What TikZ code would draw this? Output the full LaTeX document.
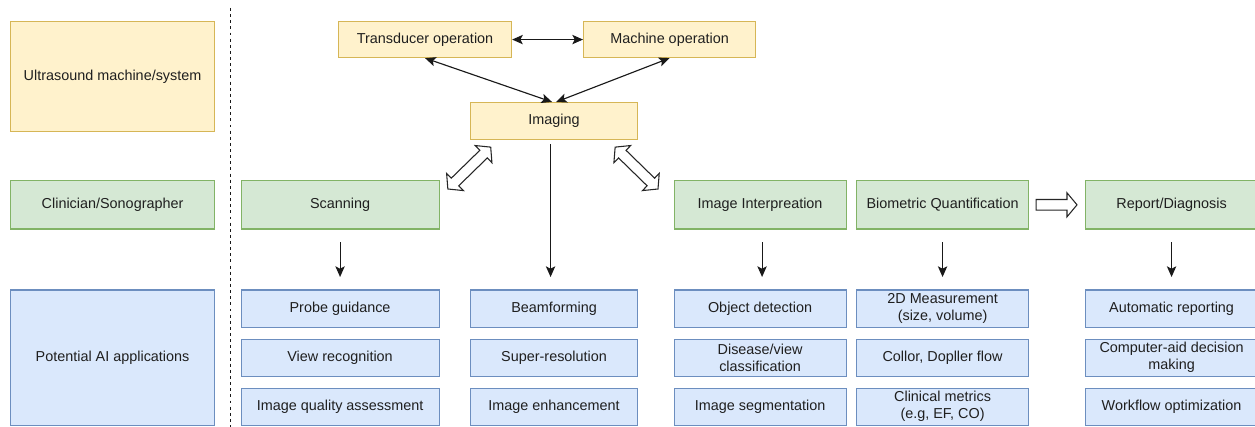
\documentclass[tikz,border=0pt]{standalone}
\usepackage{fontspec}
\setmainfont{Liberation Sans}
\usetikzlibrary{arrows.meta,calc}

\definecolor{yfill}{HTML}{FFF2CC}
\definecolor{ydraw}{HTML}{D6B656}
\definecolor{gfill}{HTML}{D5E8D4}
\definecolor{gdraw}{HTML}{82B366}
\definecolor{bfill}{HTML}{DAE8FC}
\definecolor{bdraw}{HTML}{6C8EBF}

% hollow double-headed block arrow from #1 to #2
\newcommand\dflex[2]{%
  \path[flexline] let \p1=#1, \p2=#2,
      \n1={atan2(\y2-\y1,\x2-\x1)}, \n2={veclen(\x2-\x1,\y2-\y1)} in
    [shift={(\p1)}, rotate=\n1]
    (0pt,0pt) -- (7.5pt,9pt) -- (7.5pt,4pt) -- ({\n2*1pt-7.5pt},4pt)
    -- ({\n2*1pt-7.5pt},9pt) -- ({\n2*1pt},0pt) -- ({\n2*1pt-7.5pt},-9pt)
    -- ({\n2*1pt-7.5pt},-4pt) -- (7.5pt,-4pt) -- (7.5pt,-9pt) -- cycle;}
% hollow single-headed block arrow from #1 to #2
\newcommand\sflex[2]{%
  \path[flexline] let \p1=#1, \p2=#2,
      \n1={atan2(\y2-\y1,\x2-\x1)}, \n2={veclen(\x2-\x1,\y2-\y1)} in
    [shift={(\p1)}, rotate=\n1]
    (0pt,4pt) -- ({\n2*1pt-7.5pt},4pt) -- ({\n2*1pt-7.5pt},9pt)
    -- ({\n2*1pt},0pt) -- ({\n2*1pt-7.5pt},-9pt) -- ({\n2*1pt-7.5pt},-4pt)
    -- (0pt,-4pt) -- cycle;}

\begin{document}
\begin{tikzpicture}[x=0.75pt,y=-0.75pt,
  font=\fontsize{10.8}{12.5}\selectfont,
  box/.style={draw, line width=0.85pt, inner sep=2pt, align=center,
    anchor=north west, text=black!88},
  sz/.style 2 args={minimum width=#1*0.75pt, minimum height=#2*0.75pt},
  ybox/.style={box, fill=yfill, draw=ydraw},
  gbox/.style={box, fill=gfill, draw=gdraw},
  bbox/.style={box, fill=bfill, draw=bdraw},
  tip/.tip={Stealth[length=8pt,width=7pt,inset=1.8pt]},
  conn/.style={line width=0.85pt, black!90, -tip},
  both/.style={line width=0.85pt, black!90, tip-tip},
  flexline/.style={draw=black!85, line width=0.8pt, fill=white, line join=miter}]

\fill[white] (0,0) rectangle (1255,427);
\useasboundingbox (0,0) rectangle (1255,427);

% left-hand legend column
\node[ybox, sz={204}{110}]   (us)   at (10,21)    {Ultrasound machine/system};
\node[gbox, sz={204}{48.5}]  (clin) at (10,180)   {Clinician/Sonographer};
\node[bbox, sz={204}{135}]   (pot)  at (10,289.5) {Potential AI applications};

% separator
\coordinate (septop) at (230,8);
\coordinate (sepbot) at (230,427);
\draw[line width=0.7pt, black!90, dash pattern=on 2.2pt off 2.4pt] (septop) -- (sepbot);

% ultrasound machine layer
\node[ybox, sz={173}{36}]  (tr)   at (338,21)  {Transducer operation};
\node[ybox, sz={172}{36}]  (mach) at (583,21)  {Machine operation};
\node[ybox, sz={167}{37}]  (img)  at (470,102) {Imaging};

% clinician layer
\node[gbox, sz={198}{48.5}] (scan)   at (240.5,180) {Scanning};
\node[gbox, sz={172}{48.5}] (interp) at (673.5,180) {Image Interpreation};
\node[gbox, sz={172}{48.5}] (bio)    at (856,180)   {Biometric Quantification};
\node[gbox, sz={172}{48.5}] (rep)    at (1085,180)  {Report/Diagnosis};

% AI application layer
\node[bbox, sz={198}{37}] (a1) at (240.5,289.5) {Probe guidance};
\node[bbox, sz={198}{37}] (a2) at (240.5,338.5) {View recognition};
\node[bbox, sz={198}{37}] (a3) at (240.5,387.5) {Image quality assessment};

\node[bbox, sz={167}{37}] (b1) at (470,289.5) {Beamforming};
\node[bbox, sz={167}{37}] (b2) at (470,338.5) {Super-resolution};
\node[bbox, sz={167}{37}] (b3) at (470,387.5) {Image enhancement};

\node[bbox, sz={172}{37}] (c1) at (673.5,289.5) {Object detection};
\node[bbox, sz={172}{37}] (c2) at (673.5,338.5) {Disease/view\\classification};
\node[bbox, sz={172}{37}] (c3) at (673.5,387.5) {Image segmentation};

\node[bbox, sz={172}{37}] (d1) at (856,289.5) {2D Measurement\\(size, volume)};
\node[bbox, sz={172}{37}] (d2) at (856,338.5) {Collor, Dopller flow};
\node[bbox, sz={172}{37}] (d3) at (856,387.5) {Clinical metrics\\(e.g, EF, CO)};

\node[bbox, sz={172}{37}] (e1) at (1085,289.5) {Automatic reporting};
\node[bbox, sz={172}{37}] (e2) at (1085,338.5) {Computer-aid decision\\making};
\node[bbox, sz={172}{37}] (e3) at (1085,387.5) {Workflow optimization};

% machine-level interactions
\draw[both] (tr.east) -- (mach.west);
\draw[both] (tr.south) -- ($(img.north)+(-2,0)$);
\draw[both] (mach.south) -- ($(img.north)+(2,0)$);

% imaging to its AI applications
\draw[conn] ($(img.south)+(-3.5,4)$) -- ($(b1.north)+(-3.5,-12.5)$);

% clinician tasks to their AI applications
\draw[conn] ($(scan.south)+(0,12.5)$)   -- ($(a1.north)+(0,-12.5)$);
\draw[conn] ($(interp.south)+(2,12.5)$) -- ($(c1.north)+(2,-12.5)$);
\draw[conn] ($(bio.south)+(0,12.5)$)    -- ($(d1.north)+(0,-12.5)$);
\draw[conn] ($(rep.south)+(0,12.5)$)    -- ($(e1.north)+(0,-12.5)$);

% block arrows
\dflex{($(img.south west)+(20.7,7)$)}{($(scan.north east)+(8.2,9)$)}
\dflex{($(img.south east)+(-23,7)$)}{($(interp.north west)+(-15.5,9)$)}
\sflex{($(bio.east)+(7,0)$)}{($(rep.west)+(-8,0)$)}

\end{tikzpicture}
\end{document}
